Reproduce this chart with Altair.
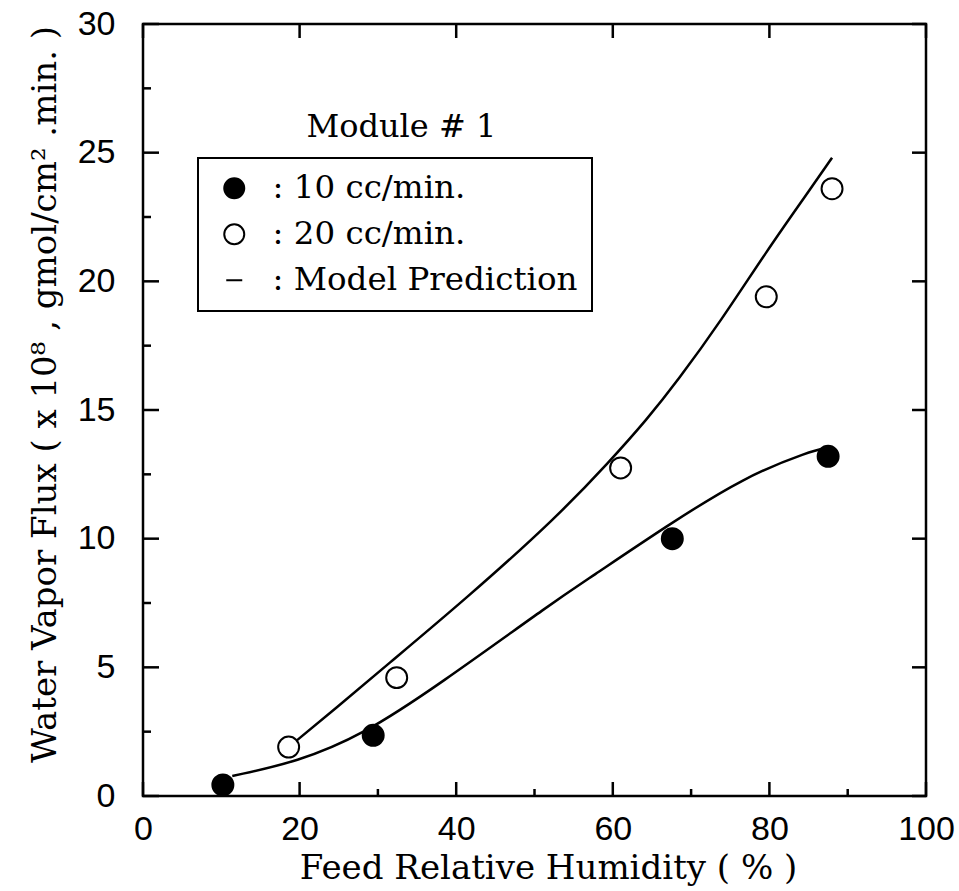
import altair as alt
import pandas as pd

# Measured water vapour flux (x 10^8 gmol/cm^2.min) versus feed relative humidity (%)
flow10_rh = [10.2, 29.4, 67.6, 87.5]
flow10_flux = [0.43, 2.36, 10.0, 13.2]
flow20_rh = [18.6, 32.4, 61.0, 79.6, 88.0]
flow20_flux = [1.9, 4.6, 12.75, 19.4, 23.6]

# Model prediction curves
model10_rh = [11.4, 19.7, 28.2, 37.5, 52.9, 56.7, 66.9, 76.8, 85.2, 87.5]
model10_flux = [0.78, 1.32, 2.4, 4.26, 7.64, 8.4, 10.5, 12.4, 13.4, 13.55]
model20_rh = [18.8, 24.8, 30.8, 41.4, 52.9, 59.6, 64.4, 68.2, 73.9, 79.7, 84.8, 88.0]
model20_flux = [1.95, 3.45, 5.0, 7.7, 10.85, 13.0, 14.65, 16.1, 18.5, 21.2, 23.4, 24.8]

series_names = ["10 cc/min.", "20 cc/min.", "Model Prediction"]
module_label = ["Module # 1"]

x_major = [0, 20, 40, 60, 80, 100]
x_minor = [10, 30, 50, 70, 90]
y_major = [0, 5, 10, 15, 20, 25, 30]
y_minor = [2.5, 7.5, 12.5, 17.5, 22.5, 27.5]

W, H = 783, 772
SERIF = "DejaVu Serif"
SANS = "Liberation Sans"

points = pd.DataFrame({
    "rh": flow10_rh + flow20_rh,
    "flux": flow10_flux + flow20_flux,
    "series": [series_names[0]] * len(flow10_rh) + [series_names[1]] * len(flow20_rh),
})
curves = pd.DataFrame({
    "rh": model10_rh + model20_rh,
    "flux": model10_flux + model20_flux,
    "curve": ["10"] * len(model10_rh) + ["20"] * len(model20_rh),
})

xscale = alt.Scale(domain=[0, 100], nice=False, zero=False)
yscale = alt.Scale(domain=[0, 30], nice=False, zero=False)

x_axis = alt.Axis(
    values=x_major, title="Feed Relative Humidity ( % )",
    labelFont=SANS, labelFontSize=34, labelColor="black", labelPadding=16,
    labelFlush=False, labelOverlap=False, tickSize=0,
    titleFont=SERIF, titleFontSize=34, titleFontWeight="normal", titleColor="black",
    titleX=405, titleY=72, titleBaseline="middle",
)
y_axis = alt.Axis(
    values=y_major, title="Water Vapor Flux ( x 10⁸ , gmol/cm² .min. )",
    labelFont=SANS, labelFontSize=34, labelColor="black", labelPadding=28,
    labelFlush=False, labelOverlap=False, labelBound=False, tickSize=0,
    titleFont=SERIF, titleFontSize=34, titleFontWeight="normal", titleColor="black",
    titleX=-98, titleY=370, titleBaseline="middle",
)

legend = alt.Legend(
    title=None, orient="none", legendX=55, legendY=134,
    padding=14, strokeColor="black", labelLimit=0,
    labelFont=SERIF, labelFontSize=32.5, labelColor="black",
    labelOffset=22, rowPadding=13, symbolOffset=6,
    symbolSize=400, symbolStrokeColor="black", symbolStrokeWidth=2,
    labelExpr="': ' + datum.label",
)

curve_layer = alt.Chart(curves).mark_line(
    color="black", strokeWidth=2.5, interpolate="basis"
).encode(
    x=alt.X("rh:Q", scale=xscale, axis=x_axis),
    y=alt.Y("flux:Q", scale=yscale, axis=y_axis),
    detail="curve:N",
)

point_layer = alt.Chart(points).mark_point(
    filled=True, strokeWidth=2, size=440, opacity=1
).encode(
    x=alt.X("rh:Q", scale=xscale),
    y=alt.Y("flux:Q", scale=yscale),
    shape=alt.Shape("series:N", scale=alt.Scale(
        domain=series_names, range=["circle", "circle", "M-0.8,0L0.8,0"]), legend=legend),
    fill=alt.Fill("series:N", scale=alt.Scale(
        domain=series_names, range=["black", "white", "white"]), legend=legend),
    stroke=alt.Stroke("series:N", scale=alt.Scale(
        domain=series_names, range=["black", "black", "black"]), legend=legend),
)

module_text = alt.Chart(pd.DataFrame({"label": module_label, "rh": [33.0], "flux": [26.0]})).mark_text(
    font=SERIF, fontSize=32, color="black", align="center", baseline="middle"
).encode(
    x=alt.X("rh:Q", scale=xscale),
    y=alt.Y("flux:Q", scale=yscale),
    text="label:N",
)

# Inward tick marks on all four sides of the frame
def ticks_x(values, y0, y1):
    return alt.Chart(pd.DataFrame({"v": values})).mark_rule(color="black", strokeWidth=2.5).encode(
        x=alt.X("v:Q", scale=xscale), y=alt.value(y0), y2=alt.value(y1))

def ticks_y(values, x0, x1):
    return alt.Chart(pd.DataFrame({"v": values})).mark_rule(color="black", strokeWidth=2.5).encode(
        y=alt.Y("v:Q", scale=yscale), x=alt.value(x0), x2=alt.value(x1))

tick_layers = [
    ticks_x(x_major, H, H - 14),
    ticks_x(x_minor, H, H - 7),
    ticks_x(x_major, 0, 14),
    ticks_y(y_major, 0, 16),
    ticks_y(y_minor, 0, 8),
    ticks_y(y_major, W, W - 14),
]

chart = alt.layer(curve_layer, *tick_layers, point_layer, module_text).properties(
    width=W, height=H,
    autosize=alt.AutoSizeParams(type="none"),
    padding={"left": 143, "top": 24, "right": 959 - 143 - W, "bottom": 891 - 24 - H},
    background="white",
).configure_view(
    stroke="black", strokeWidth=2.5
).configure_axis(
    domain=False, grid=False, ticks=False
).configure_legend(
    strokeWidth=2
)

chart.save("out.html", embed_options={"renderer": "svg", "actions": False})
